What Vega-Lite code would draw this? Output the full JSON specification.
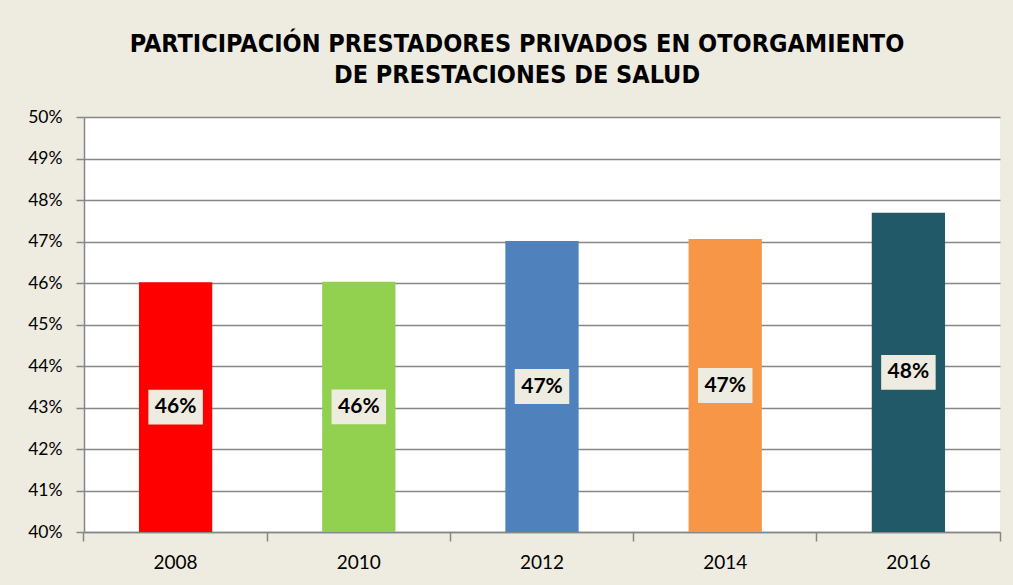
{
  "$schema": "https://vega.github.io/schema/vega-lite/v6.json",
  "width": 916,
  "height": 415,
  "autosize": {"type": "none"},
  "padding": {"left": 84, "top": 117, "right": 13, "bottom": 53},
  "background": "#EEECE1",
  "title": {
    "text": ["PARTICIPACIÓN PRESTADORES PRIVADOS EN OTORGAMIENTO", "DE PRESTACIONES DE SALUD"],
    "font": "DejaVu Sans Condensed, Roboto",
    "fontSize": 25,
    "fontWeight": "bold",
    "color": "#000000",
    "anchor": "middle",
    "frame": "group",
    "dx": -25,
    "offset": 20,
    "lineHeight": 31
  },
  "data": {
    "values": [
      {"year": "2008", "value": 0.4602},
      {"year": "2010", "value": 0.4603},
      {"year": "2012", "value": 0.4701},
      {"year": "2014", "value": 0.4706},
      {"year": "2016", "value": 0.4769}
    ]
  },
  "transform": [{"calculate": "(datum.value + 0.40) / 2", "as": "mid"}],
  "config": {
    "view": {"fill": "white", "stroke": null},
    "axis": {
      "labelFont": "Lato",
      "labelColor": "#000000",
      "domainColor": "#868686",
      "tickColor": "#868686",
      "gridColor": "#868686",
      "domainWidth": 1.5,
      "tickWidth": 1.5,
      "gridWidth": 1.3
    }
  },
  "resolve": {"axis": {"x": "independent"}},
  "encoding": {
    "x": {
      "field": "year",
      "type": "nominal",
      "scale": {"paddingInner": 0.6, "paddingOuter": 0.3}
    }
  },
  "layer": [
    {
      "mark": {"type": "bar"},
      "encoding": {
        "x": {
          "field": "year",
          "type": "nominal",
          "axis": {"orient": "bottom", "title": null, "labelAngle": 0, "labelFontSize": 19, "ticks": false, "labelPadding": 21, "grid": false}
        },
        "y": {
          "field": "value",
          "type": "quantitative",
          "scale": {"domain": [0.4, 0.5], "zero": false, "nice": false},
          "axis": {
            "title": null,
            "format": ".0%",
            "values": [0.40, 0.41, 0.42, 0.43, 0.44, 0.45, 0.46, 0.47, 0.48, 0.49, 0.50],
            "labelFontSize": 17.5,
            "tickSize": 8,
            "labelPadding": 14,
            "grid": true
          }
        },
        "y2": {"datum": 0.4},
        "color": {
          "field": "year",
          "type": "nominal",
          "scale": {"range": ["#FF0000", "#92D050", "#4F81BD", "#F79646", "#215968"]},
          "legend": null
        }
      }
    },
    {
      "mark": {
        "type": "point",
        "shape": "M-1,-0.64L1,-0.64L1,0.64L-1,0.64Z",
        "filled": true,
        "fill": "#EEECE1",
        "opacity": 1,
        "strokeWidth": 0,
        "size": 2970
      },
      "encoding": {
        "x": {
          "field": "year",
          "type": "nominal",
          "axis": {"orient": "bottom", "title": null, "labels": false, "domain": false, "bandPosition": -0.75, "tickSize": 9, "grid": false}
        },
        "y": {"field": "mid", "type": "quantitative"}
      }
    },
    {
      "mark": {"type": "text", "font": "Lato", "fontSize": 21, "fontWeight": "bold", "color": "#000000", "baseline": "middle"},
      "encoding": {
        "x": {
          "field": "year",
          "type": "nominal",
          "axis": {"orient": "bottom", "title": null, "labels": false, "domain": false, "values": ["2016"], "bandPosition": 1.75, "tickSize": 9, "grid": false}
        },
        "y": {"field": "mid", "type": "quantitative"},
        "text": {"field": "value", "type": "quantitative", "format": ".0%"}
      }
    }
  ]
}
